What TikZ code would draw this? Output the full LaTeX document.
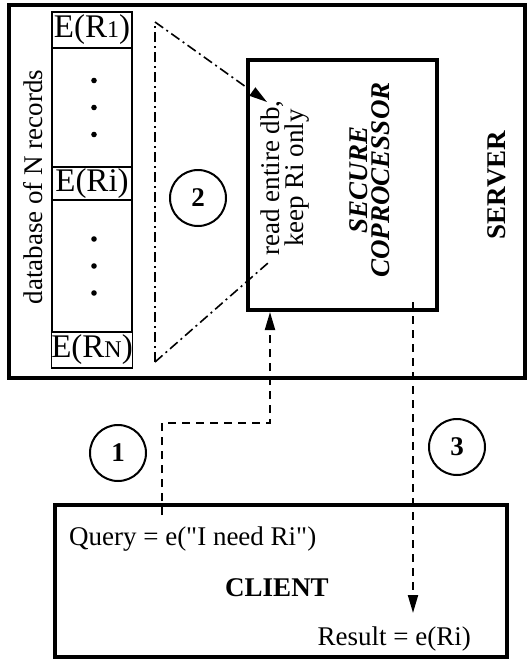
\documentclass[tikz,border=0pt]{standalone}
\usepackage{fontspec}
\setmainfont[Ligatures=TeXOff]{Liberation Serif}
\usetikzlibrary{arrows.meta, positioning, calc}

\tikzset{
    bigbox/.style={draw, line width=2pt, inner sep=0pt},
    cell/.style={draw, line width=0.7pt, minimum width=40pt, inner sep=0pt, outer sep=0pt,
        font=\fontsize{16.5}{17}\selectfont},
    stepnum/.style={draw, circle, line width=1pt, minimum size=28pt, inner sep=0pt,
        font=\fontsize{13.5}{14}\selectfont\bfseries},
    flow/.style={dash pattern=on 4pt off 3pt, line width=1pt},
    scan/.style={dash pattern=on 5pt off 2pt on 1pt off 2pt, line width=0.8pt},
    tip/.style={-{Triangle[length=9pt, width=5pt]}},
}
\newcommand{\smallsub}[1]{{\fontsize{12}{12}\selectfont #1}}

\begin{document}
\begin{tikzpicture}[x=0.5pt, y=-0.5pt, font=\fontsize{13.5}{13}\selectfont]
    \useasboundingbox (0,0) rectangle (528,659);

    % server and coprocessor
    \node[bigbox, minimum width=258pt, minimum height=186.5pt] (server) at (267,191.5) {};
    \node[bigbox, minimum width=94.5pt, minimum height=125pt] (cop) at (342.5,185) {};
    \node[rotate=90, font=\fontsize{13.5}{13}\selectfont\bfseries] (srvlabel) at (497,185) {SERVER};
    \node[rotate=90, align=center, font=\fontsize{13.5}{11}\selectfont\bfseries\itshape]
        (coplabel) at (370,180) {SECURE\\COPROCESSOR};
    \node[rotate=90, align=center, font=\fontsize{13.5}{11}\selectfont]
        (readnote) at (285,178) {read entire db,\\keep Ri only};

    % database column
    \node[rotate=90] (dblabel) at (33,187) {database of N records};
    \node[cell, minimum height=18pt] (rec1) at (92,30) {E(R\smallsub{1})};
    \node[cell, minimum height=59.5pt, below=0pt of rec1] (dots1) {};
    \node[cell, minimum height=16.5pt, below=0pt of dots1] (reci) {E(Ri)};
    \node[cell, minimum height=66pt, below=0pt of reci] (dots2) {};
    \node[cell, minimum height=18pt, below=0pt of dots2] (recn) {E(R\smallsub{N})};
    \foreach \gap in {dots1, dots2}
        \foreach \d in {-27, 0, 27}
            \fill ($(\gap.center)+(2,\d)$) circle (1.4pt);

    % scan of the whole db
    \coordinate (scanA) at (155,22);
    \coordinate (scanB) at (155,362);
    \coordinate (scanC) at (268,263);
    \coordinate (scanD) at (267,102);
    \draw[scan] (scanB) -- (scanA);
    \draw[scan, tip] (scanA) -- (scanD);
    \draw[scan] (scanB) -- (scanC);

    % steps
    \node[stepnum] (step1) at (118,453) {1};
    \node[stepnum] (step2) at (198,198) {2};
    \node[stepnum] (step3) at (457,447) {3};

    % client
    \node[bigbox, minimum width=226pt, minimum height=76pt] (client) at (281,581) {};
    \node[anchor=base west] (query) at (62,545) {Query = e("I need Ri")};
    \node[font=\fontsize{13.5}{13}\selectfont\bfseries] (clientlabel) at (277,588) {CLIENT};
    \node[anchor=base east] (result) at (478,645) {Result = e(Ri)};

    % query up, result down
    \coordinate (q0) at (162,515);
    \coordinate (q1) at (162,423);
    \coordinate (q2) at (270,423);
    \draw[flow, tip] (q0) -- (q1) -- (q2) -- (q2 |- cop.south);
    \coordinate (res0) at (413,302);
    \coordinate (res1) at (413,613);
    \draw[flow, tip] (res0) -- (res1);
\end{tikzpicture}
\end{document}
